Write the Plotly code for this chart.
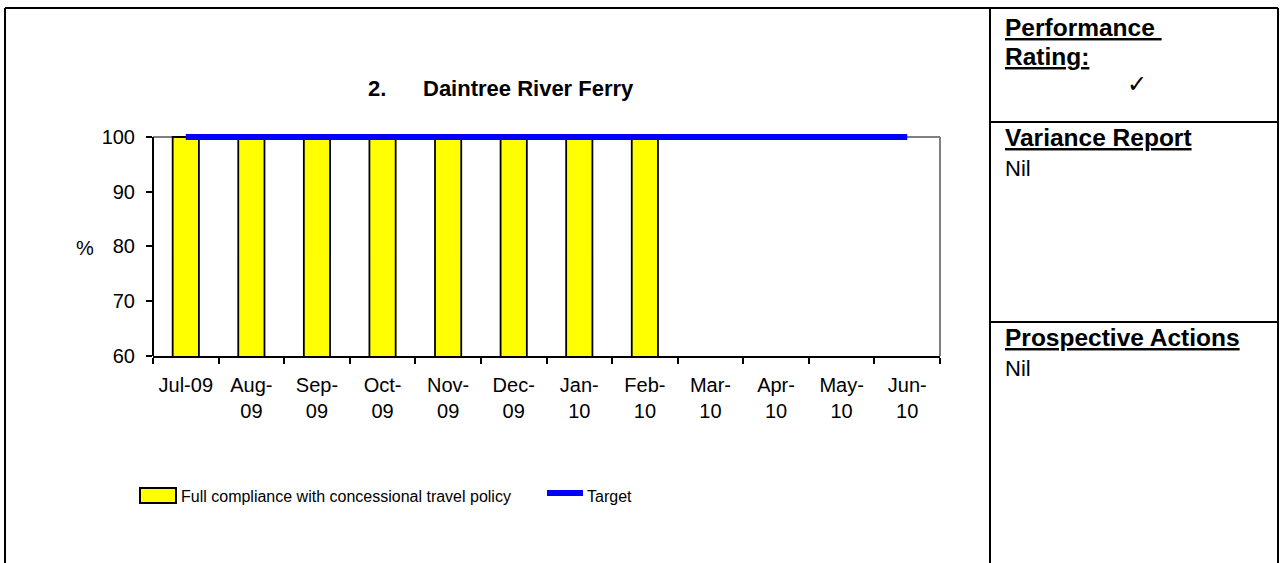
import plotly.graph_objects as go

W, H = 1282, 563

# Monthly data for the ferry service
months = ["Jul-09", "Aug-09", "Sep-09", "Oct-09", "Nov-09", "Dec-09",
          "Jan-10", "Feb-10", "Mar-10", "Apr-10", "May-10", "Jun-10"]
tick_labels = ["Jul-09", "Aug-<br>09", "Sep-<br>09", "Oct-<br>09", "Nov-<br>09",
               "Dec-<br>09", "Jan-<br>10", "Feb-<br>10", "Mar-<br>10", "Apr-<br>10",
               "May-<br>10", "Jun-<br>10"]
compliance = [100, 100, 100, 100, 100, 100, 100, 100, None, None, None, None]
target = [100] * 12
y_ticks = [60, 70, 80, 90, 100]
y_min, y_max = 60, 100

FONT = "Arial, Liberation Sans, sans-serif"


def px(x):
    return x / W


def py(y):
    return 1 - y / H


# pixel geometry of the plot area: y=60 at 356px, y=100 at 137px
unit = (356 - 137) / (y_max - y_min)
y_top = 101.0  # headroom so the thick target line is not clipped
top_px = 356 - (y_top - y_min) * unit

fig = go.Figure()
fig.add_trace(go.Bar(
    x=tick_labels, y=compliance, width=0.4,
    marker=dict(color="#FFFF00", line=dict(color="black", width=1.8)),
    name="Full compliance with concessional travel policy", showlegend=False,
))
fig.add_trace(go.Scatter(
    x=tick_labels, y=target, mode="lines",
    line=dict(color="#0000FF", width=6),
    name="Target", showlegend=False,
))

shapes = []
# plot-area frame: grey top and right edges, black left axis line
shapes.append(dict(type="line", xref="x domain", yref="y", x0=0, x1=1, y0=y_max, y1=y_max,
                   line=dict(color="#808080", width=2), layer="below"))
shapes.append(dict(type="line", xref="x domain", yref="y", x0=1, x1=1, y0=y_min, y1=y_max,
                   line=dict(color="#808080", width=2), layer="below"))
shapes.append(dict(type="line", xref="x domain", yref="y", x0=0, x1=0, y0=y_min, y1=y_max,
                   line=dict(color="black", width=2)))

# page table frame
frame = dict(color="black", width=2)
shapes += [
    dict(type="line", xref="paper", yref="paper", x0=px(5), x1=px(1278), y0=py(8), y1=py(8), line=frame),
    dict(type="line", xref="paper", yref="paper", x0=px(5), x1=px(5), y0=py(8), y1=0, line=frame),
    dict(type="line", xref="paper", yref="paper", x0=px(1278), x1=px(1278), y0=py(8), y1=0, line=frame),
    dict(type="line", xref="paper", yref="paper", x0=px(990), x1=px(990), y0=py(8), y1=0, line=frame),
    dict(type="line", xref="paper", yref="paper", x0=px(990), x1=px(1278), y0=py(122), y1=py(122), line=frame),
    dict(type="line", xref="paper", yref="paper", x0=px(990), x1=px(1278), y0=py(322), y1=py(322), line=frame),
]

# legend keys
shapes.append(dict(type="rect", xref="paper", yref="paper", x0=px(140), x1=px(176), y0=py(503), y1=py(488),
                   fillcolor="#FFFF00", line=dict(color="black", width=2)))
shapes.append(dict(type="line", xref="paper", yref="paper", x0=px(547), x1=px(583), y0=py(493), y1=py(493),
                   line=dict(color="#0000FF", width=6)))

HEAD = 24.5
BODY = 22
annotations = [
    dict(text="<b>2.</b>", x=px(366), y=py(89), xanchor="left", yanchor="middle",
         font=dict(family=FONT, size=22, color="black")),
    dict(text="<b>Daintree River Ferry</b>", x=px(421), y=py(89), xanchor="left", yanchor="middle",
         font=dict(family=FONT, size=22, color="black")),
    dict(text="%", x=px(85), y=py(248), xanchor="center", yanchor="middle",
         font=dict(family=FONT, size=20, color="black")),
    dict(text="Full compliance with concessional travel policy", x=px(179), y=py(496),
         xanchor="left", yanchor="middle", font=dict(family=FONT, size=16, color="black")),
    dict(text="Target", x=px(585), y=py(496), xanchor="left", yanchor="middle",
         font=dict(family=FONT, size=16, color="black")),
    # side panel
    dict(text="<b><u>Performance\u00a0</u></b>", x=px(1003), y=py(27), xanchor="left", yanchor="middle",
         font=dict(family=FONT, size=HEAD, color="black")),
    dict(text="<b><u>Rating:</u></b>", x=px(1003), y=py(56), xanchor="left", yanchor="middle",
         font=dict(family=FONT, size=HEAD, color="black")),
    dict(text="\u2713", x=px(1137), y=py(84), xanchor="center", yanchor="middle",
         font=dict(family="DejaVu Sans", size=24, color="black")),
    dict(text="<b><u>Variance Report</u></b>", x=px(1003), y=py(137), xanchor="left", yanchor="middle",
         font=dict(family=FONT, size=HEAD, color="black")),
    dict(text="Nil", x=px(1003), y=py(168), xanchor="left", yanchor="middle",
         font=dict(family=FONT, size=BODY, color="black")),
    dict(text="<b><u>Prospective Actions</u></b>", x=px(1003), y=py(337), xanchor="left", yanchor="middle",
         font=dict(family=FONT, size=HEAD, color="black")),
    dict(text="Nil", x=px(1003), y=py(368), xanchor="left", yanchor="middle",
         font=dict(family=FONT, size=BODY, color="black")),
]
for a in annotations:
    a.update(xref="paper", yref="paper", showarrow=False)

fig.update_layout(
    template="none",
    width=W, height=H, autosize=False,
    margin=dict(l=0, r=0, t=0, b=0, pad=0, autoexpand=False),
    paper_bgcolor="white", plot_bgcolor="white",
    showlegend=False, bargap=0.6,
    shapes=shapes, annotations=annotations,
    font=dict(family=FONT, size=20, color="black"),
)
fig.update_xaxes(
    domain=[px(153), px(940)], range=[-0.5, 11.5],
    type="category", tickson="boundaries", automargin=False,
    showline=True, linecolor="black", linewidth=2,
    ticks="outside", ticklen=6, tickwidth=2, tickcolor="black",
    showgrid=False, zeroline=False,
    tickfont=dict(family=FONT, size=20, color="black"),
    ticklabelstandoff=10,
)
fig.update_yaxes(
    domain=[py(356), py(top_px)], range=[y_min, y_top],
    tickvals=y_ticks, automargin=False,
    showline=False,
    ticks="outside", ticklen=6, tickwidth=2, tickcolor="black",
    showgrid=False, zeroline=False,
    tickfont=dict(family=FONT, size=20, color="black"),
    ticklabelstandoff=7,
)

fig.write_html("out.html", config={"displayModeBar": False})
